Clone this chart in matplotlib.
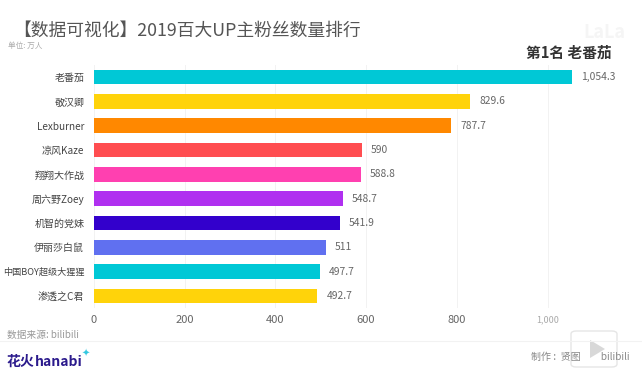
import matplotlib
matplotlib.use("Agg")
import matplotlib.pyplot as plt
from matplotlib.patches import FancyBboxPatch, Polygon

plt.rcParams['font.family'] = ['Noto Sans CJK SC', 'DejaVu Sans']

names = ["老番茄", "敬汉卿", "Lexburner", "凉风Kaze", "翔翔大作战", "周六野Zoey",
         "机智的党妹", "伊丽莎白鼠", "中国BOY超级大猩猩", "渗透之C君"]
fans = [1054.3, 829.6, 787.7, 590, 588.8, 548.7, 541.9, 511, 497.7, 492.7]
fan_labels = ["1,054.3", "829.6", "787.7", "590", "588.8", "548.7", "541.9", "511", "497.7", "492.7"]
colors = ["#00C8D6", "#FFD30A", "#FF8800", "#FF4D50", "#FF40B0", "#B030F0",
          "#3300CC", "#6070F0", "#00C8D6", "#FFD30A"]
xticks = [0, 200, 400, 600, 800, 1000]
xtick_labels = ["0", "200", "400", "600", "800", "1,000"]

W, H = 642, 372
fig = plt.figure(figsize=(W / 100, H / 100), dpi=100)
# axes box in pixels: x 94..618, y 65..308
ax = fig.add_axes([94 / W, 1 - 308 / H, (618 - 94) / W, (308 - 65) / H])

ypos = list(range(len(names)))
ax.barh(ypos, fans, height=0.6, color=colors, zorder=3)
ax.set_ylim(9.5, -0.5)
ax.set_xlim(0, 524 / 0.4535)

for y, v, lab in zip(ypos, fans, fan_labels):
    ax.text(v + 20, y, lab, va="center", ha="left", fontsize=7.4, color="#666666")

for s in ax.spines.values():
    s.set_visible(False)
ax.set_xticks(xticks)
ax.set_xticklabels(xtick_labels, fontsize=8, color="#666666")
ax.get_xticklabels()[-1].set_fontsize(6.5)
ax.get_xticklabels()[-1].set_color("#AAAAAA")
ax.set_yticks(ypos)
ax.set_yticklabels(names, fontsize=7.2, color="#444444")
# longest name only just fits the left margin
ax.get_yticklabels()[8].set_fontsize(6.6)
ax.tick_params(length=0, axis="both")
ax.tick_params(axis="y", pad=7)
ax.tick_params(axis="x", pad=5)
ax.grid(axis="x", color="#F2F2F2", linewidth=0.7, zorder=0)

fig.text(13 / W, 1 - 31 / H, "【数据可视化】2019百大UP主粉丝数量排行", fontsize=12.8,
         color="#555555", va="center", ha="left")
fig.text(8 / W, 1 - 46 / H, "单位: 万人", fontsize=5.5, color="#AAAAAA", va="center")
fig.text(612 / W, 1 - 53 / H, "第1名 老番茄", fontsize=10.6, color="#333333",
         va="center", ha="right", fontweight="bold")
fig.text(625 / W, 1 - 33 / H, "LaLa", fontsize=13, color="#F5F5F5", va="center",
         ha="right", fontweight="bold")
fig.text(7 / W, 1 - 335 / H, "数据来源: bilibili", fontsize=7, color="#999999", va="center")
fig.text(7 / W, 1 - 362 / H, "花火", fontsize=10, color="#2B1A8C", va="center", fontweight="bold")
fig.text(35 / W, 1 - 362 / H, "hanabi", fontsize=10, color="#2B1A8C", va="center", fontweight="bold")
fig.text(86 / W, 1 - 354 / H, "✦", fontsize=7, color="#35C8E0", va="center", ha="center",
         family="DejaVu Sans")
fig.text(630 / W, 1 - 357 / H, "制作 :  贤图         bilibili", fontsize=7.2, color="#888888",
         va="center", ha="right")
fig.add_artist(plt.Line2D([0, 1], [1 - 341 / H, 1 - 341 / H], color="#F2F2F2", linewidth=0.8))

# video player overlay in the corner
fig.add_artist(FancyBboxPatch((571 / W, 1 - 367 / H), 46 / W, 36 / H,
                              boxstyle="round,pad=0,rounding_size=0.008",
                              facecolor="white", edgecolor="#DDDDDD", linewidth=1.0,
                              alpha=0.75, transform=fig.transFigure))
fig.add_artist(Polygon([(590 / W, 1 - 340 / H), (590 / W, 1 - 358 / H), (605 / W, 1 - 349 / H)],
                       closed=True, facecolor="#D8D8D8", edgecolor="none",
                       transform=fig.transFigure))

fig.savefig("out.png", dpi=100)
